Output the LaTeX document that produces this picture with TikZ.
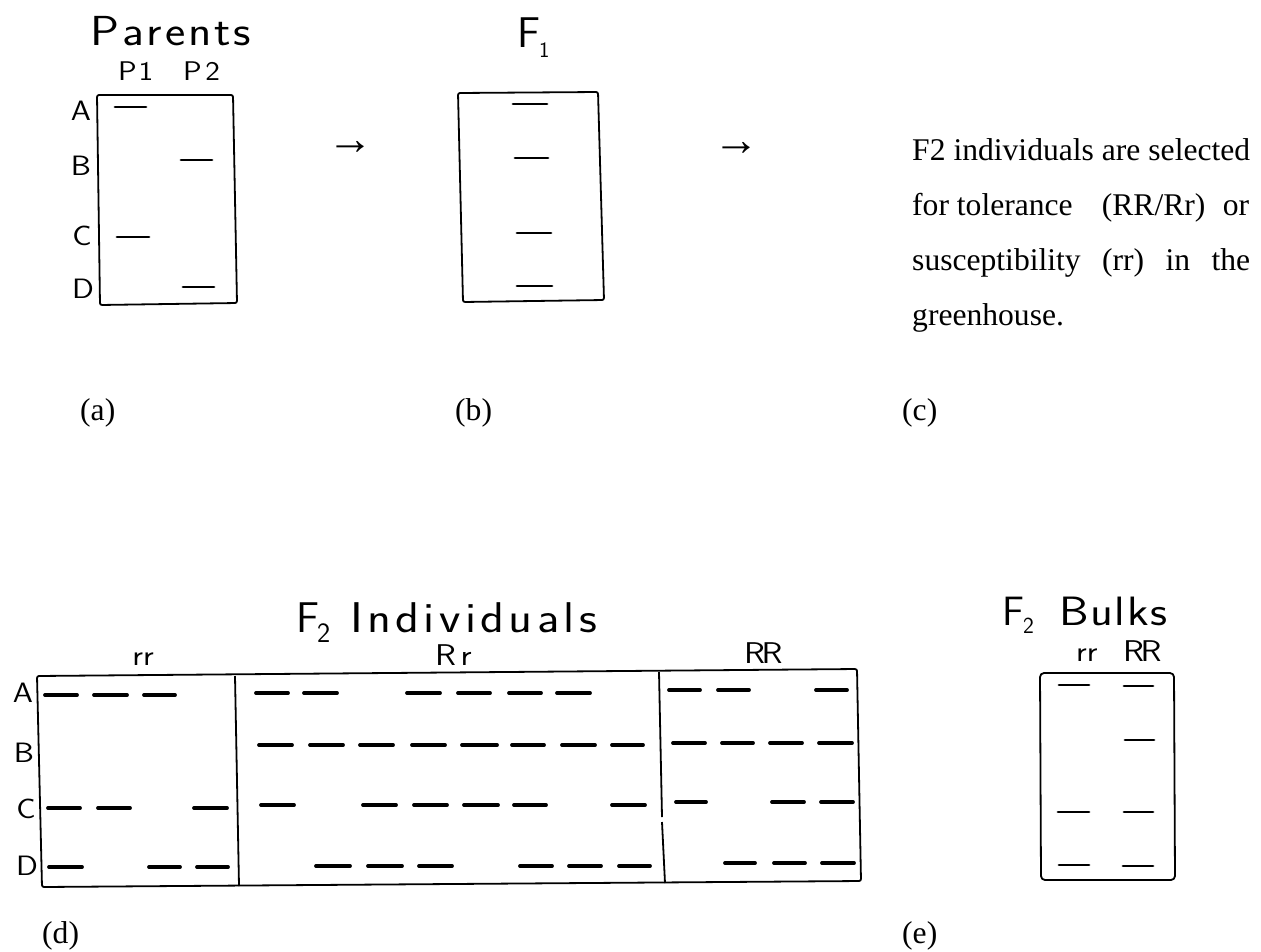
\documentclass[tikz,border=0pt]{standalone}
\usepackage{fontspec}
\newfontfamily\tms{Liberation Serif}
\newdimen\lsp
\def\spc#1{\spcA#1\relax}
\def\spcA#1{\ifx#1\relax\else#1\kern\lsp\expandafter\spcA\fi}
\newcommand\hf[1]{\sffamily\fontsize{#1}{#1}\selectfont}
\newcommand\wide[1]{\scalebox{1.15}[1]{#1}}
\newcommand\lowsub[3]{\kern#1\raisebox{#2}{#3}}
\begin{document}
\begin{tikzpicture}[x=1pt,y=-1pt,
  gel/.style={line width=1.8pt, line join=round, rounded corners=2pt},
  divider/.style={line width=1.8pt},
  band/.style={line width=3.8pt, line cap=round},
  thinband/.style={line width=2.8pt, line cap=round},
  hand/.style={inner sep=0pt, anchor=base west},
  handc/.style={inner sep=0pt, anchor=base},
  arrowtxt/.style={inner sep=0pt, font=\tms\fontsize{46}{46}\selectfont},
  serif/.style={font=\tms\fontsize{31.6}{38}\selectfont, inner sep=0pt, anchor=base west}]
\useasboundingbox (0,0) rectangle (1261,951);

% ---------- (a) Parents ----------
\node[hand, font=\hf{42}] (parents) at (90,45) {\wide{\lsp=2.5pt\spc{Parents}}};
\node[hand, font=\hf{27}] (p1) at (118,80) {\wide{\lsp=1.5pt\spc{P1}}};
\node[hand, font=\hf{27}] (p2) at (183,80) {\wide{\lsp=3pt\spc{P2}}};
\node[handc, font=\hf{28}] (la) at (81,120) {\wide{A}};
\node[handc, font=\hf{28}] (lb) at (81,175) {\wide{B}};
\node[handc, font=\hf{28}] (lc) at (82,245) {\wide{C}};
\node[handc, font=\hf{28}] (ld) at (83,298) {\wide{D}};
\draw[gel] (97,95) -- (233,95) -- (237,303) -- (100,305) -- cycle;
\draw[thinband] (115,107) -- (146,107);
\draw[thinband] (181,160) -- (212,160);
\draw[thinband] (117,237) -- (149,237);
\draw[thinband] (183,287) -- (214,287);
\node[arrowtxt] (arr1) at (350,148) {→};

% ---------- (b) F1 ----------
\node[hand, font=\hf{43}] (f1) at (517,47) {F\lowsub{-1pt}{-10pt}{\hf{22}1}};
\draw[gel] (458,93) -- (598,92) -- (604,300) -- (463,302) -- cycle;
\draw[thinband] (513,104) -- (547,104);
\draw[thinband] (515,158) -- (548,158);
\draw[thinband] (517,233) -- (551,233);
\draw[thinband] (517,286) -- (552,286);
\node[arrowtxt] (arr2) at (736,149) {→};

% ---------- (c) text ----------
\node[serif] (t1) at (912,160) {\makebox[338pt][s]{F2 individuals are selected}};
\node[serif] (t2) at (912,215) {\makebox[338pt][l]{for tolerance\hspace{0pt plus 30fil}(RR/Rr)\hspace{0pt plus 18fil}or}};
\node[serif] (t3) at (912,270) {\makebox[338pt][s]{susceptibility (rr) in the}};
\node[serif] (t4) at (912,325) {greenhouse.};

\node[serif] (capa) at (80,420) {(a)};
\node[serif] (capb) at (455,420) {(b)};
\node[serif] (capc) at (902,420) {(c)};

% ---------- (d) F2 individuals ----------
\node[hand, font=\hf{43}] (f2i) at (296,632) {F\lowsub{-2pt}{-10pt}{\hf{28}2}};
\node[hand, font=\hf{43}] (indiv) at (350,632) {\wide{\lsp=3.8pt\spc{Individuals}}};
\node[handc, font=\hf{29}] (grr) at (143,665) {\wide{rr}};
\node[hand, font=\hf{30}] (gRr) at (435,665) {\wide{\lsp=4pt\spc{Rr}}};
\node[hand, font=\hf{30}] (gRR) at (744,663) {\wide{\lsp=-3pt\spc{RR}}};
\node[handc, font=\hf{28}] (da) at (23,702) {\wide{A}};
\node[handc, font=\hf{28}] (db) at (24,762) {\wide{B}};
\node[handc, font=\hf{28}] (dc) at (26,818) {\wide{C}};
\node[handc, font=\hf{28}] (dd) at (27,875) {\wide{D}};
\draw[gel] (37,676) -- (857,669) -- (861,881) -- (42,887) -- cycle;
\draw[divider] (235,676) -- (239,886);
\draw[divider] (659,672) -- (662,817);
\draw[divider] (662,822) -- (665,883);
\foreach \a/\b/\y in {45/77/695, 94/127/695, 144/175/695,
  48/80/808, 98/130/808, 194/227/808,
  49/82/867, 149/180/867, 197/228/867,
  256/288/693, 304/337/693, 407/440/693, 458/490/693, 509/541/693, 557/590/693,
  259/292/745, 310/343/745, 360/393/745, 412/445/745, 462/497/745, 512/544/745, 562/595/745, 612/643/745,
  261/294/805, 363/396/805, 414/447/805, 464/498/805, 514/546/805, 612/645/805,
  316/350/866, 368/402/866, 419/452/866, 520/552/866, 569/601/866, 619/650/866,
  669/700/690, 718/749/690, 816/847/690,
  673/705/743, 722/753/743, 770/802/743, 819/852/743,
  676/706/802, 772/804/802, 821/853/802,
  725/755/863, 774/805/863, 822/854/863}
  \draw[band] (\a,\y) -- (\b,\y);

% ---------- (e) F2 bulks ----------
\node[hand, font=\hf{41}] (f2b) at (1002,625) {F\lowsub{-1pt}{-8pt}{\hf{23}2}};
\node[hand, font=\hf{41}] (bulks) at (1059,625) {\wide{\lsp=1.5pt\spc{Bulks}}};
\node[hand, font=\hf{29}] (brr) at (1076,661) {\wide{rr}};
\node[hand, font=\hf{30}] (bRR) at (1123,661) {\wide{\lsp=-3pt\spc{RR}}};
\draw[gel, rounded corners=4pt] (1040,673) -- (1174,673) -- (1175,880) -- (1041,880) -- cycle;
\foreach \a/\b/\y in {1059/1089/685, 1058/1089/812, 1059/1089/865,
  1124/1153/686, 1125/1154/740, 1124/1153/812, 1123/1153/866}
  \draw[thinband] (\a,\y) -- (\b,\y);

\node[serif] (capd) at (42,943) {(d)};
\node[serif] (cape) at (902,943) {(e)};
\end{tikzpicture}
\end{document}
